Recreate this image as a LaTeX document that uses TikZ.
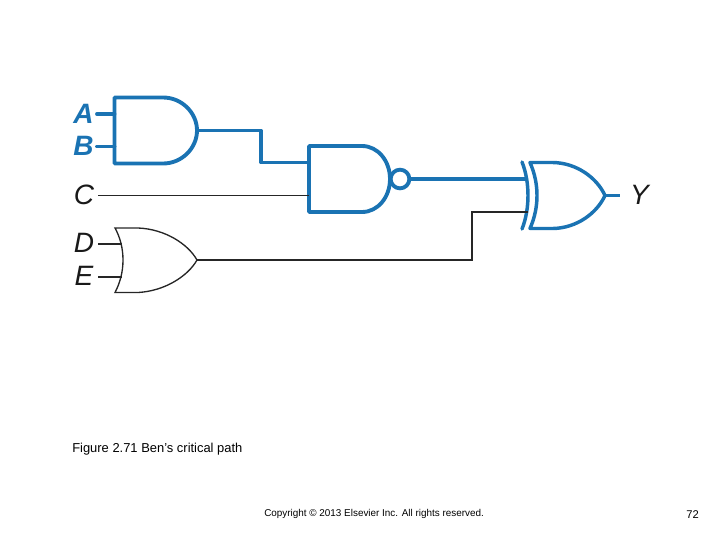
\documentclass[tikz,border=0pt]{standalone}
\usepackage{fontspec}
\setmainfont{Liberation Sans}
\definecolor{pathblue}{HTML}{1A73B3}
\tikzset{
	critical/.style={draw=pathblue,line width=2.9pt,line join=round},
	plain/.style={draw=black!85,line width=1pt},
	inlabel/.style={font=\fontsize{21}{21}\selectfont\itshape,text=black!90,inner sep=0pt},
	bluelabel/.style={inlabel,font=\fontsize{21}{21}\selectfont\itshape\bfseries,text=pathblue},
}
\begin{document}
\begin{tikzpicture}[x=0.75pt,y=-0.75pt]
	\useasboundingbox (0,0) rectangle (720,540);
	%pins
	\coordinate (a in) at (97,114);
	\coordinate (a pin) at (114.5,114);
	\coordinate (b in) at (97,146.5);
	\coordinate (b pin) at (114.5,146.5);
	\coordinate (and out) at (197,130.5);
	\coordinate (nand up) at (309,162.5);
	\coordinate (c in) at (98,195.5);
	\coordinate (nand low) at (309,195.5);
	\coordinate (d in) at (98,244);
	\coordinate (d pin) at (122,244);
	\coordinate (e in) at (98,277);
	\coordinate (e pin) at (122,277);
	\coordinate (or out) at (197,260);
	\coordinate (xor up) at (528,179);
	\coordinate (xor low) at (528,212);
	\coordinate (xor out) at (605,195.5);
	\coordinate (y out) at (620,195.5);
	%labels
	\node[bluelabel] (label a) at (83.5,113.5) {A};
	\node[bluelabel] (label b) at (83.5,146) {B};
	\node[inlabel] (label c) at (84,194.5) {C};
	\node[inlabel] (label d) at (84,243) {D};
	\node[inlabel] (label e) at (84,276) {E};
	\node[inlabel] (label y) at (639.5,194.5) {Y};
	%and gate
	\draw[critical] (163,97.5) -- (114.5,97.5) -- (114.5,163.5) -- (163,163.5) .. controls (182,163.5) and (197,148) .. (and out) .. controls (197,113) and (182,97.5) .. (163,97.5) -- cycle;
	%nand gate
	\draw[critical] (362,146) -- (309,146) -- (309,212) -- (362,212) .. controls (378,212) and (390,197) .. (390,179) .. controls (390,161) and (378,146) .. (362,146) -- cycle;
	\node[circle,draw=pathblue,line width=2.9pt,minimum size=14pt,inner sep=0pt] (bubble) at (400,179) {};
	%xor gate
	\draw[critical,line width=2.6pt] (530,162.5) -- (553,162.5) .. controls (577,163) and (597,178) .. (xor out) .. controls (597,213) and (577,228) .. (553,228.5) -- (530,228.5) .. controls (535,217) and (537,206) .. (537,195.5) .. controls (537,185) and (535,174) .. (530,162.5) -- cycle;
	\draw[critical,line width=2.6pt,line cap=round] (522,162) .. controls (526,172) and (528,184) .. (528,195.5) .. controls (528,207) and (526,219) .. (522,229);
	%or gate
	\draw[plain] (115,228) -- (138,228) .. controls (165,229) and (188,244) .. (or out) .. controls (188,276) and (165,291) .. (138,292.5) -- (115,292.5) .. controls (120,283) and (123,272) .. (123,260) .. controls (123,248) and (120,237) .. (115,228) -- cycle;
	%critical wires
	\draw[critical,line cap=round] (a in) -- (a pin);
	\draw[critical,line cap=round] (b in) -- (b pin);
	\draw[critical] (and out) -- (261,130.5) |- (nand up);
	\draw[critical] (bubble.east) -- (xor up);
	\draw[critical] (xor out) -- (y out);
	%other wires
	\draw[plain] (c in) -- (nand low);
	\draw[plain] (d in) -- (d pin);
	\draw[plain] (e in) -- (e pin);
	\draw[plain] (or out) -- (472,260) |- (xor low);
	%texts
	\node[anchor=west,inner sep=0pt,font=\fontsize{9.7}{11}\selectfont] (caption) at (72,449) {Figure 2.71 Ben’s critical path};
	\node[anchor=west,inner sep=0pt,font=\fontsize{7.43}{9}\selectfont] (copyright) at (264,514) {Copyright © 2013 Elsevier Inc. All rights reserved.};
	\node[anchor=west,inner sep=0pt,font=\fontsize{8.4}{10}\selectfont] (page) at (686,515) {72};
\end{tikzpicture}
\end{document}
